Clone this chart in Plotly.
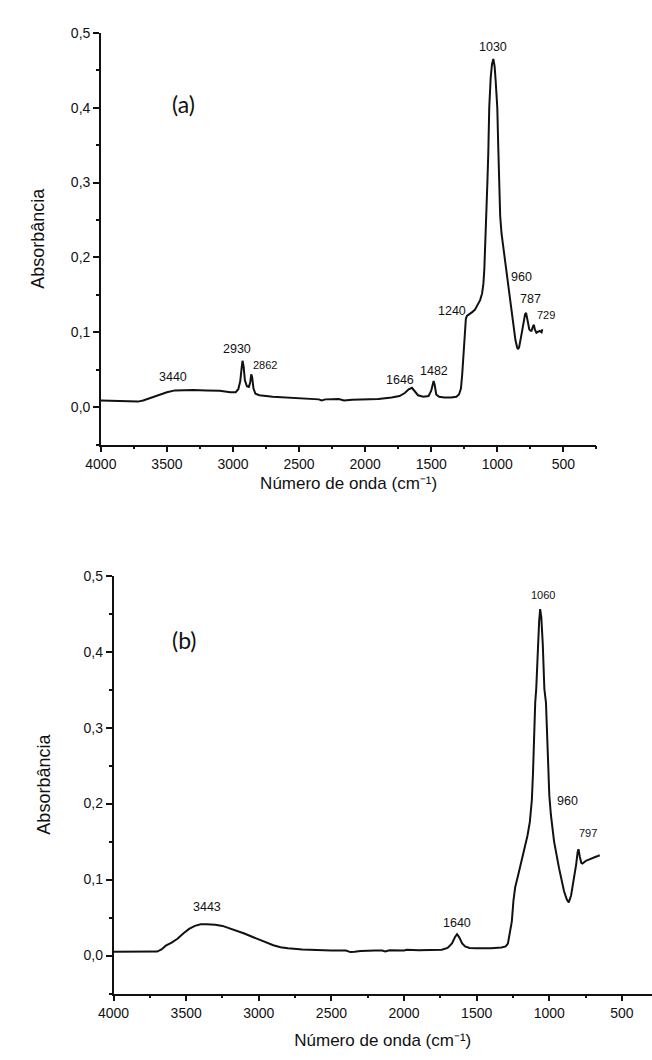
import plotly.graph_objects as go

# ---------------- data ----------------
wn_a = [4000, 3900, 3800, 3720, 3680, 3620, 3560, 3500, 3440, 3380, 3300, 3200, 3100, 3020,
        2980, 2960, 2945, 2935, 2928, 2920, 2910, 2895, 2880, 2870, 2862, 2855, 2845, 2830,
        2800, 2700, 2600, 2500, 2400, 2350, 2330, 2300, 2200, 2160, 2100, 2000, 1900, 1800,
        1740, 1700, 1670, 1646, 1625, 1600, 1560, 1520, 1500, 1490, 1482, 1474, 1462, 1440,
        1400, 1350, 1310, 1290, 1275, 1265, 1255, 1245, 1238, 1230, 1210, 1190, 1170, 1150,
        1130, 1115, 1105, 1098, 1090, 1082, 1075, 1068, 1061, 1050, 1040, 1030, 1020, 1012,
        1005, 1000, 993, 987, 978, 968, 955, 945, 930, 913, 900, 889, 875, 863, 850, 844,
        835, 825, 815, 800, 790, 782, 775, 765, 758, 748, 741, 730, 723, 716, 704, 690, 679,
        665, 659]
abs_a = [0.009, 0.0085, 0.008, 0.0075, 0.009, 0.013, 0.017, 0.020, 0.0225, 0.023, 0.023, 0.0225,
         0.022, 0.020, 0.020, 0.024, 0.035, 0.052, 0.062, 0.055, 0.036, 0.028, 0.027, 0.033,
         0.044, 0.040, 0.025, 0.018, 0.016, 0.014, 0.013, 0.012, 0.011, 0.0105, 0.009, 0.0105,
         0.011, 0.009, 0.010, 0.010, 0.011, 0.013, 0.015, 0.019, 0.024, 0.026, 0.022, 0.016,
         0.014, 0.015, 0.022, 0.032, 0.035, 0.030, 0.017, 0.014, 0.013, 0.013, 0.014, 0.017,
         0.025, 0.045, 0.075, 0.105, 0.118, 0.122, 0.124, 0.127, 0.130, 0.136, 0.143, 0.152,
         0.165, 0.185, 0.218, 0.26, 0.30, 0.34, 0.40, 0.44, 0.458, 0.465, 0.455, 0.435, 0.415,
         0.40, 0.35, 0.30, 0.255, 0.232, 0.215, 0.197, 0.175, 0.157, 0.138, 0.121, 0.104,
         0.090, 0.080, 0.0776, 0.080, 0.088, 0.099, 0.114, 0.124, 0.126, 0.120, 0.108, 0.104,
         0.102, 0.102, 0.108, 0.110, 0.104, 0.0995, 0.101, 0.102, 0.100, 0.104]

wn_b = [4000, 3900, 3800, 3700, 3670, 3640, 3600, 3560, 3520, 3480, 3440, 3400, 3360, 3300,
        3250, 3200, 3150, 3100, 3050, 3000, 2950, 2900, 2850, 2800, 2700, 2600, 2500, 2400,
        2370, 2340, 2300, 2200, 2150, 2130, 2100, 2000, 1980, 1900, 1800, 1740, 1700, 1670,
        1650, 1635, 1620, 1600, 1580, 1550, 1500, 1400, 1330, 1300, 1285, 1270, 1258, 1247,
        1235, 1213, 1190, 1168, 1150, 1134, 1120, 1112, 1105, 1097, 1090, 1080, 1070, 1063,
        1055, 1045, 1034, 1023, 1011, 1005, 1000, 989, 967, 933, 899, 880, 866, 850, 832,
        815, 805, 799, 790, 780, 772, 760, 745, 732, 715, 698, 680, 665, 653]
abs_b = [0.005, 0.005, 0.005, 0.0052, 0.008, 0.013, 0.017, 0.022, 0.029, 0.035, 0.039, 0.041,
         0.041, 0.0405, 0.039, 0.036, 0.033, 0.029, 0.025, 0.021, 0.017, 0.0135, 0.011, 0.0095,
         0.008, 0.007, 0.0065, 0.0065, 0.0045, 0.005, 0.006, 0.0065, 0.0065, 0.0055, 0.007,
         0.0065, 0.0075, 0.007, 0.0072, 0.0075, 0.010, 0.016, 0.024, 0.028, 0.024, 0.016,
         0.012, 0.010, 0.0095, 0.0095, 0.0105, 0.012, 0.0157, 0.030, 0.045, 0.072, 0.090,
         0.107, 0.125, 0.142, 0.158, 0.176, 0.205, 0.242, 0.29, 0.333, 0.351, 0.40, 0.44,
         0.456, 0.445, 0.41, 0.351, 0.333, 0.268, 0.242, 0.211, 0.185, 0.150, 0.115, 0.085,
         0.074, 0.070, 0.079, 0.098, 0.120, 0.136, 0.140, 0.130, 0.122, 0.121, 0.123, 0.125,
         0.126, 0.127, 0.128, 0.130, 0.131, 0.132]

x_tick_vals = [4000, 3500, 3000, 2500, 2000, 1500, 1000, 500]
x_tick_text = ["4000", "3500", "3000", "2500", "2000", "1500", "1000", "500"]
y_tick_vals = [0.0, 0.1, 0.2, 0.3, 0.4, 0.5]
y_tick_text = ["0,0", "0,1", "0,2", "0,3", "0,4", "0,5"]

peak_labels_a = ["3440", "2930", "2862", "1646", "1482", "1240", "1030", "960", "787", "729"]
peak_labels_b = ["3443", "1640", "1060", "960", "797"]
panel_labels = ["(a)", "(b)"]
y_title = "Absorbância"
x_title = "Número de onda (cm⁻¹)"
x_title_b = "Número de onda (cm⁻¹)"

# ---------------- figure ----------------
W, H = 652, 1060
BLACK = "#111111"
FONT = "Liberation Sans, Arial, sans-serif"

fig = go.Figure()
fig.add_trace(go.Scatter(x=wn_a, y=abs_a, mode="lines", line=dict(color=BLACK, width=2),
                         xaxis="x", yaxis="y", showlegend=False))
fig.add_trace(go.Scatter(x=wn_b, y=abs_b, mode="lines", line=dict(color=BLACK, width=2),
                         xaxis="x2", yaxis="y2", showlegend=False))


def px_x(p):
    return p / W


def px_y(p):
    return 1 - p / H


common_x = dict(tickmode="array", tickvals=x_tick_vals, ticktext=x_tick_text,
                ticks="outside", ticklen=6, tickwidth=1.5, tickcolor=BLACK,
                showline=True, linecolor=BLACK, linewidth=1.5, showgrid=False, zeroline=False,
                tickfont=dict(family=FONT, size=14, color=BLACK),
                minor=dict(ticks="outside", ticklen=3, tickwidth=1.5, tickcolor=BLACK,
                           tickvals=[3750, 3250, 2750, 2250, 1750, 1250, 750, 250]))
common_y = dict(tickmode="array", tickvals=y_tick_vals, ticktext=y_tick_text,
                ticks="outside", ticklen=6, tickwidth=1.5, tickcolor=BLACK,
                showline=True, linecolor=BLACK, linewidth=1.5, showgrid=False, zeroline=False,
                tickfont=dict(family=FONT, size=14, color=BLACK),
                minor=dict(ticks="outside", ticklen=3, tickwidth=1.5, tickcolor=BLACK,
                           tickvals=[-0.05, 0.05, 0.15, 0.25, 0.35, 0.45]),
                range=[-0.05, 0.5])

fig.update_layout(
    width=W, height=H,
    margin=dict(l=0, r=0, t=0, b=0),
    paper_bgcolor="white", plot_bgcolor="white",
    xaxis=dict(common_x, domain=[px_x(87), px_x(595)], range=[4000, 250], anchor="y",
               title=dict(text=x_title, standoff=6, font=dict(family=FONT, size=17, color=BLACK))),
    yaxis=dict(common_y, domain=[px_y(440), px_y(25)], anchor="x",
               title=dict(text=y_title, standoff=22, font=dict(family=FONT, size=18, color=BLACK))),
    xaxis2=dict(common_x, domain=[px_x(100), 1.0], range=[4000, 293], anchor="y2",
                title=dict(text=x_title_b, standoff=14, font=dict(family=FONT, size=17, color=BLACK))),
    yaxis2=dict(common_y, domain=[px_y(993), px_y(572)], anchor="x2",
                title=dict(text=y_title, standoff=28, font=dict(family=FONT, size=18, color=BLACK))),
)

ann = []
pos_a = [(3457, 0.040), (2972, 0.078), (2758, 0.056), (1739, 0.037), (1482, 0.048),
         (1342, 0.128), (1036, 0.481), (817, 0.174), (746, 0.144), (630, 0.123)]
for t, (x, y) in zip(peak_labels_a, pos_a):
    size = 11 if t in ("2862", "729") else 12.5
    ann.append(dict(x=x, y=y, xref="x", yref="y", text=t, showarrow=False,
                    font=dict(family=FONT, size=size, color=BLACK)))
pos_b = [(3356, 0.064), (1634, 0.043), (1045, 0.475), (875, 0.203), (736, 0.161)]
for t, (x, y) in zip(peak_labels_b, pos_b):
    size = 11 if t in ("1060", "797") else 12.5
    ann.append(dict(x=x, y=y, xref="x2", yref="y2", text=t, showarrow=False,
                    font=dict(family=FONT, size=size, color=BLACK)))

# panel labels
plab_font = dict(family="Lato, Open Sans, sans-serif", size=23, color=BLACK)
ann.append(dict(x=px_x(158), y=px_y(81), xref="paper", yref="paper", text=panel_labels[0],
                showarrow=False, font=plab_font))
ann.append(dict(x=px_x(158), y=px_y(637), xref="paper", yref="paper", text=panel_labels[1],
                showarrow=False, font=plab_font))

fig.update_layout(annotations=ann)
fig.write_html("out.html")
